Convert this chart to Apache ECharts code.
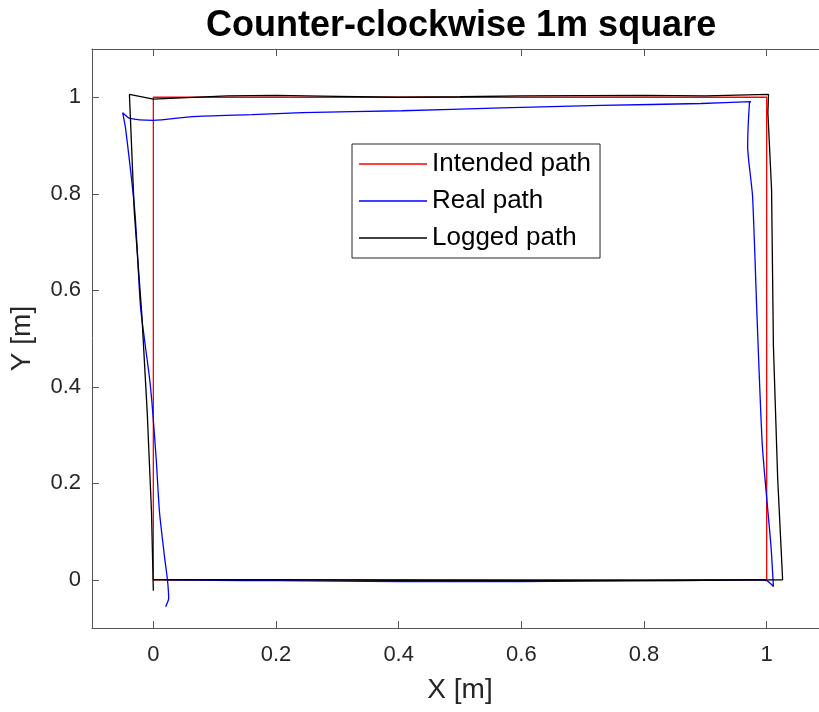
<!DOCTYPE html>
<html>
<head>
<meta charset="utf-8">
<script src="https://cdn.jsdelivr.net/npm/echarts@6/dist/echarts.min.js"></script>
<style>
  html, body { margin: 0; padding: 0; background: #fff; overflow: hidden; }
  /* the plot box runs past the right edge of the picture, as in the reference */
  #main { width: 828px; height: 712px; }
</style>
</head>
<body>
<div id="main"></div>
<script>
// tick positions
var xTicks = [0, 0.2, 0.4, 0.6, 0.8, 1];
var yTicks = [0, 0.2, 0.4, 0.6, 0.8, 1];

// paths as [x, y] in metres
var intendedPath = [[0, 0], [1, 0], [1, 1], [0, 1], [0, 0]];

var realPath = [
    [0.02, 0.0], [0.1, -0.001], [0.2, -0.002], [0.3, -0.003], [0.4, -0.004], [0.5, -0.004],
    [0.6, -0.004], [0.7, -0.003], [0.8, -0.002], [0.9, -0.001], [0.98, 0.0], [1.0, -0.002], [1.011, -0.014],
    [1.007, 0.07], [0.993, 0.277], [0.984, 0.555], [0.977, 0.795], [0.969, 0.898], [0.972, 0.989], [0.974, 0.991],
    [0.893, 0.987], [0.73, 0.983], [0.568, 0.978], [0.405, 0.972], [0.243, 0.968], [0.161, 0.964],
    [0.064, 0.960], [0.0, 0.952], [-0.038, 0.956], [-0.05, 0.968],
    [-0.045, 0.933], [-0.03, 0.761], [-0.021, 0.567], [-0.013, 0.484], [-0.006, 0.416], [-0.001, 0.348],
    [0.005, 0.244], [0.01, 0.141], [0.018, 0.05], [0.023, 0.0], [0.025, -0.039], [0.02, -0.056]
];

var loggedPath = [
    [0, 0], [0.2, 0.0], [0.4, -0.001], [0.6, -0.002], [0.8, -0.002], [0.9, -0.001], [1.026, 0.0],
    [1.018, 0.209], [1.011, 0.484], [1.008, 0.809], [1.002, 0.968], [1.003, 1.006],
    [0.9, 1.003], [0.8, 1.004], [0.6, 1.003], [0.5, 1.001], [0.4, 1.0], [0.3, 1.002], [0.2, 1.004],
    [0.12, 1.003], [0.0, 0.996], [-0.039, 1.006],
    [-0.031, 0.761], [-0.019, 0.554], [-0.01, 0.348], [-0.003, 0.141], [0.0, -0.023]
];

var FONT = '"Liberation Sans", Arial, Helvetica, sans-serif';
var AXIS_COLOR = '#555555';
var TEXT_COLOR = '#262626';

var myChart = echarts.init(document.getElementById('main'));

// mirror axes (top / right) just draw the box line and inner ticks
function boxAxis(pos, ticks) {
    return {
        type: 'value',
        position: pos,
        min: -0.1,
        max: 1.1,
        axisLine: { show: true, onZero: false, lineStyle: { color: AXIS_COLOR, width: 1 } },
        axisTick: { show: true, inside: true, length: 7, customValues: ticks, lineStyle: { color: AXIS_COLOR } },
        axisLabel: { show: false },
        splitLine: { show: false }
    };
}

var option = {
    backgroundColor: '#ffffff',
    animation: false,
    title: {
        text: 'Counter-clockwise 1m square',
        left: 201,
        top: 3,
        textStyle: { fontFamily: FONT, fontWeight: 'bold', fontSize: 36, color: '#000' }
    },
    legend: {
        orient: 'vertical',
        left: 352,
        top: 144,
        padding: [7, 9, 7, 7],
        itemGap: 11,
        itemWidth: 68,
        itemHeight: 1.5,
        icon: 'rect',
        borderColor: '#262626',
        borderWidth: 1,
        backgroundColor: '#fff',
        data: ['Intended path', 'Real path', 'Logged path'],
        textStyle: { fontFamily: FONT, fontSize: 26, lineHeight: 26, color: '#000' }
    },
    grid: { left: 89, top: 49, right: 0, bottom: 84, containLabel: false },
    xAxis: [{
        type: 'value',
        min: -0.1,
        max: 1.1,
        name: 'X [m]',
        nameLocation: 'middle',
        nameGap: 48,
        nameTextStyle: { fontFamily: FONT, fontSize: 28, color: TEXT_COLOR },
        axisLine: { show: true, onZero: false, lineStyle: { color: AXIS_COLOR, width: 1 } },
        axisTick: { show: true, inside: true, length: 7, customValues: xTicks, lineStyle: { color: AXIS_COLOR } },
        axisLabel: { customValues: xTicks, margin: 16, fontFamily: FONT, fontSize: 22, color: TEXT_COLOR },
        splitLine: { show: false }
    }, boxAxis('top', xTicks)],
    yAxis: [{
        type: 'value',
        min: -0.1,
        max: 1.1,
        name: 'Y [m]',
        nameLocation: 'middle',
        nameGap: 56,
        nameTextStyle: { fontFamily: FONT, fontSize: 28, color: TEXT_COLOR },
        axisLine: { show: true, onZero: false, lineStyle: { color: AXIS_COLOR, width: 1 } },
        axisTick: { show: true, inside: true, length: 7, customValues: yTicks, lineStyle: { color: AXIS_COLOR } },
        axisLabel: { customValues: yTicks, margin: 11, fontFamily: FONT, fontSize: 22, color: TEXT_COLOR },
        splitLine: { show: false }
    }, boxAxis('right', yTicks)],
    series: [{
        name: 'Intended path',
        type: 'line',
        data: intendedPath,
        symbol: 'none',
        color: '#ff0000',
        lineStyle: { color: '#ff0000', width: 1.3 }
    }, {
        name: 'Real path',
        type: 'line',
        data: realPath,
        symbol: 'none',
        smooth: 0.2,
        color: '#0000ff',
        lineStyle: { color: '#0000ff', width: 1.3 }
    }, {
        name: 'Logged path',
        type: 'line',
        data: loggedPath,
        symbol: 'none',
        color: '#000000',
        lineStyle: { color: '#000000', width: 1.3 }
    }]
};

myChart.setOption(option);
</script>
</body>
</html>
